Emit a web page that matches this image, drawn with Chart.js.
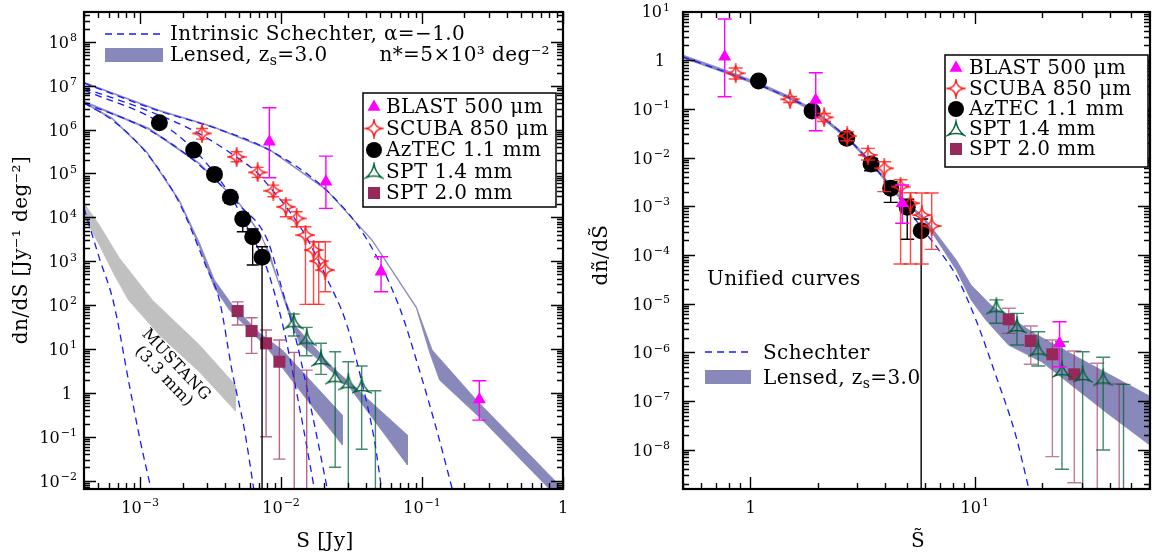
<!DOCTYPE html>
<html>
<head>
<meta charset="utf-8">
<script src="https://cdn.jsdelivr.net/npm/chart.js@4.4.1/dist/chart.umd.min.js"></script>
<style>
  html, body { margin: 0; padding: 0; background: #fff; }
  #wrap { position: relative; width: 1159px; height: 552px; overflow: hidden; }
  #c1 { position: absolute; left: 0; top: 0; }
  #c2 { position: absolute; left: 580px; top: 0; }
</style>
</head>
<body>
<div id="wrap">
  <canvas id="c1" width="580" height="552"></canvas>
  <canvas id="c2" width="579" height="552"></canvas>
</div>
<script>
// ---------- left panel: dn/dS [Jy^-1 deg^-2] vs S [Jy] ----------
const blastS  = [8.26e-3, 2.08e-2, 5.12e-2, 0.255];
const blastN  = [5.27e5, 6.47e4, 577, 0.71];
const blastLo = [7.98e4, 1.60e4, 202, 0.24];
const blastHi = [3.14e6, 2.49e5, 1268, 1.90];

const scubaS  = [2.75e-3, 4.84e-3, 6.82e-3, 8.81e-3, 1.08e-2, 1.29e-2, 1.49e-2, 1.70e-2, 1.85e-2, 2.06e-2];
const scubaN  = [8.2e5, 2.4e5, 1.06e5, 4.04e4, 1.74e4, 9480, 3950, 1800, 1010, 631];
const scubaLo = [6.08e5, 1.85e5, 8.15e4, 2.95e4, 1.03e4, 6110, 104, 104, 104, 202];
const scubaHi = [1.06e6, 3.12e5, 1.38e5, 5.44e4, 2.48e4, 1.34e4, 6110, 2780, 2780, 2780];

const aztecS  = [1.37e-3, 2.40e-3, 3.37e-3, 4.37e-3, 5.35e-3, 6.29e-3, 7.33e-3];
const aztecN  = [1.43e6, 3.41e5, 9.55e4, 2.86e4, 9150, 3610, 1230];
const aztecLo = [1.3e6, 3.1e5, 8.6e4, 2.08e4, 4700, 819, 1e-5];
const aztecHi = [1.57e6, 3.75e5, 1.05e5, 3.83e4, 1.27e4, 5420, 2140];

const spt14S  = [1.23e-2, 1.52e-2, 1.92e-2, 2.42e-2, 3.0e-2, 3.73e-2, 4.67e-2];
const spt14N  = [41.9, 17.5, 5.92, 2.34, 1.71, 1.44, 1e-4];
const spt14Lo = [19.8, 7.03, 2.65, 0.0202, 1e-5, 0.052, 1e-5];
const spt14Hi = [62.7, 31.2, 13.5, 8.68, 5.14, 4.1, 1.12];

const spt20S  = [4.92e-3, 6.18e-3, 7.83e-3, 9.73e-3, 1.24e-2, 1.52e-2];
const spt20N  = [73.4, 25.7, 13.5, 5.14, 1e-4, 1e-4];
const spt20Lo = [35.2, 7.98, 0.1, 0.031, 1e-5, 1e-5];
const spt20Hi = [119, 51.6, 27.1, 16.0, 8.4, 3.3];

// intrinsic Schechter curves
const schBlastS = [4.0e-4, 1.37e-3, 3.26e-3, 8.26e-3, 2.09e-2, 4.09e-2, 6.90e-2, 9.57e-2, 0.126, 0.166];
const schBlastN = [1.15e7, 2.64e6, 1.14e6, 3.41e5, 4.19e4, 3.04e3, 90.5, 3.33, 0.158, 5.5e-3];
const schScubaS = [4.0e-4, 1.11e-3, 2.51e-3, 4.82e-3, 6.68e-3, 8.67e-3, 1.09e-2, 1.51e-2, 2.09e-2, 2.90e-2, 3.71e-2, 4.59e-2, 5.2e-2];
const schScubaN = [8.8e6, 2.78e6, 8.77e5, 2.37e5, 1.08e5, 4.19e4, 1.72e4, 3.56e3, 437, 39.1, 1.97, 0.0846, 5.5e-3];
const schAztecS = [4.0e-4, 1.37e-3, 2.35e-3, 3.37e-3, 4.45e-3, 5.32e-3, 6.26e-3, 7.87e-3, 1.02e-2, 1.35e-2, 1.74e-2];
const schAztecN = [7.94e6, 1.48e6, 3.79e5, 1.02e5, 2.90e4, 9.64e3, 3.56e3, 738, 39.1, 0.477, 5.5e-3];
const schSpt14S = [4.0e-4, 1.16e-3, 2.64e-3, 5.06e-3, 8.0e-3, 1.02e-2, 1.28e-2, 1.67e-2, 2.15e-2];
const schSpt14N = [4.02e6, 9.75e5, 1.55e5, 1.91e4, 3.04e3, 221, 16.0, 0.313, 5.5e-3];
const schSpt20S = [4.0e-4, 6.36e-4, 1.11e-3, 1.90e-3, 2.95e-3, 3.65e-3, 4.52e-3, 5.50e-3, 6.45e-3];
const schSpt20N = [4.02e6, 1.64e6, 2.92e5, 2.12e4, 738, 131, 2.84, 0.143, 5.5e-3];
const schMustS  = [4.0e-4, 5.14e-4, 6.47e-4, 8.39e-4, 1.0e-3, 1.2e-3];
const schMustN  = [1.63e4, 1.18e3, 118, 1.51, 0.0846, 6.1e-3];

// lensed bands: upper edge then lower edge (reversed)
const lensBlastUpS = [4.0e-4, 1.37e-3, 3.26e-3, 8.26e-3, 2.09e-2, 4.44e-2, 9.12e-2, 0.118, 0.243, 0.84, 1.11];
const lensBlastUpN = [1.21e7, 2.78e6, 1.20e6, 3.6e5, 4.42e4, 3.04e3, 90.5, 9.5, 0.689, 0.0115, 4.72e-3];
const lensBlastLoS = [1.11, 0.80, 0.268, 0.133, 0.113, 9.12e-2, 4.44e-2, 2.09e-2, 8.26e-3, 3.26e-3, 1.37e-3, 4.0e-4];
const lensBlastLoN = [9.8e-4, 6.47e-3, 0.241, 1.97, 8.55, 85, 2.9e3, 4.2e4, 3.45e5, 1.15e6, 2.66e6, 1.16e7];

const lensSpt14UpS = [4.0e-4, 1.16e-3, 2.64e-3, 5.06e-3, 7.24e-3, 9.73e-3, 1.28e-2, 2.31e-2, 7.87e-2];
const lensSpt14UpN = [4.46e6, 1.08e6, 1.73e5, 2.12e4, 3.95e3, 287, 31.7, 3.89, 0.110];
const lensSpt14LoS = [7.87e-2, 3.05e-2, 1.35e-2, 1.05e-2, 8.26e-3, 7.24e-3, 5.06e-3, 2.64e-3, 1.16e-3, 4.0e-4];
const lensSpt14LoN = [0.0228, 1.36, 13.7, 131, 1.62e3, 3.6e3, 2.0e4, 1.62e5, 1.0e6, 4.2e6];

const lensSpt20UpS = [4.0e-4, 6.36e-4, 1.11e-3, 1.90e-3, 2.64e-3, 3.37e-3, 4.52e-3, 7.02e-3, 1.02e-2, 2.72e-2];
const lensSpt20UpN = [4.23e6, 1.83e6, 3.24e5, 2.48e4, 2.6e3, 373, 100, 23.1, 9.5, 0.313];
const lensSpt20LoS = [2.72e-2, 1.35e-2, 7.87e-3, 5.50e-3, 4.30e-3, 3.37e-3, 2.64e-3, 1.90e-3, 1.11e-3, 6.36e-4, 4.0e-4];
const lensSpt20LoN = [0.065, 1.16, 11.1, 35.2, 77.3, 245, 2.1e3, 2.3e4, 3.05e5, 1.72e6, 4.0e6];

const mustangUpS = [4.0e-4, 5.14e-4, 7.13e-4, 1.22e-3, 2.64e-3, 4.74e-3];
const mustangUpN = [2.12e4, 6.68e3, 1.18e3, 131, 12.3, 1.51];
const mustangLoS = [4.74e-3, 2.64e-3, 1.37e-3, 8.26e-4, 6.57e-4, 5.14e-4, 4.0e-4];
const mustangLoN = [0.387, 2.99, 20.8, 131, 485, 2.34e3, 1.02e4];

// ---------- right panel: unified dñ/dS̃ vs S̃ ----------
const uBlastS  = [0.767, 1.954, 4.75, 23.9];
const uBlastN  = [1.175, 0.152, 1.15e-3, 1.53e-6];
const uBlastLo = [0.177, 0.0355, 4.46e-4, 5.06e-7];
const uBlastHi = [6.98, 0.551, 2.72e-3, 4.25e-6];

const uScubaS  = [0.859, 1.502, 2.13, 2.70, 3.34, 3.95, 4.67, 5.17, 5.81, 6.43];
const uScubaN  = [0.536, 0.157, 0.0668, 0.0276, 0.01124, 6.0e-3, 2.51e-3, 1.15e-3, 6.59e-4, 3.92e-4];
const uScubaLo = [0.409, 0.135, 0.055, 0.022, 8.9e-3, 1.99e-3, 6.5e-5, 6.5e-5, 6.5e-5, 1.3e-4];
const uScubaHi = [0.688, 0.18, 0.08, 0.034, 0.0154, 8.2e-3, 3.5e-3, 1.89e-3, 1.87e-3, 1.87e-3];

const uAztecS  = [1.086, 1.882, 2.685, 3.45, 4.22, 5.0, 5.77];
const uAztecN  = [0.372, 0.0902, 0.0248, 7.36e-3, 2.33e-3, 9.48e-4, 3.14e-4];
const uAztecLo = [0.34, 0.082, 0.0225, 5.36e-3, 1.2e-3, 2.09e-4, 1e-12];
const uAztecHi = [0.405, 0.099, 0.0273, 9.6e-3, 3.18e-3, 1.39e-3, 5.46e-4];

const uSpt14S  = [12.49, 15.44, 19.2, 24.5, 30.3, 37.4, 46.1];
const uSpt14N  = [8.63e-6, 3.47e-6, 1.15e-6, 4.33e-7, 3.42e-7, 2.92e-7, 1e-10];
const uSpt14Lo = [3.94e-6, 1.41e-6, 5.23e-7, 3.96e-9, 1e-12, 9.86e-9, 1e-12];
const uSpt14Hi = [1.19e-5, 6.3e-6, 2.65e-6, 1.65e-6, 1.03e-6, 7.9e-7, 2.2e-7];

const uSpt20S  = [14.19, 17.78, 22.2, 27.8, 35.2, 44.1];
const uSpt20N  = [4.76e-6, 1.71e-6, 9.1e-7, 3.53e-7, 1e-10, 1e-10];
const uSpt20Lo = [2.45e-6, 5.67e-7, 7.2e-9, 2.1e-9, 1e-12, 1e-12];
const uSpt20Hi = [8.0e-6, 3.47e-6, 1.79e-6, 1.06e-6, 5.94e-7, 2.23e-7];

const uSchS = [0.5, 0.771, 1.098, 1.487, 1.914, 2.726, 3.51, 4.52, 5.81, 6.97, 8.28, 10.13, 12.40, 15.18, 17.48];
const uSchN = [1.16, 0.570, 0.308, 0.167, 0.0902, 0.0240, 7.02e-3, 1.62e-3, 3.57e-4, 1.20e-4, 3.69e-5, 4.60e-6, 3.42e-7, 2.10e-8, 1.5e-9];

const uLensUpS = [0.5, 0.771, 1.098, 1.487, 1.914, 2.726, 3.51, 4.52, 5.93, 8.28, 9.63, 11.79, 18.57, 29.85, 62.6];
const uLensUpN = [1.27, 0.627, 0.339, 0.183, 0.0991, 0.0264, 7.71e-3, 1.87e-3, 6.0e-4, 7.86e-5, 2.41e-5, 9.36e-6, 2.4e-6, 7.2e-7, 1.15e-7];
const uLensLoS = [62.6, 38.9, 19.94, 14.14, 11.21, 9.63, 8.28, 5.93, 4.52, 3.51, 2.726, 1.914, 1.487, 1.098, 0.771, 0.5];
const uLensLoN = [1.1e-8, 5.67e-8, 6.32e-7, 1.41e-6, 4.60e-6, 1.19e-5, 4.90e-5, 5.21e-4, 1.62e-3, 6.70e-3, 0.0229, 0.0859, 0.159, 0.294, 0.543, 1.10];

// ---------- axis ticks ----------
const leftXTicks  = [1e-3, 1e-2, 1e-1, 1];
const leftXLabels = [['10', '−3'], ['10', '−2'], ['10', '−1'], ['1', '']];
const leftYTicks  = [1e-2, 1e-1, 1, 1e1, 1e2, 1e3, 1e4, 1e5, 1e6, 1e7, 1e8];
const leftYLabels = [['10', '−2'], ['10', '−1'], ['1', ''], ['10', '1'], ['10', '2'], ['10', '3'],
                     ['10', '4'], ['10', '5'], ['10', '6'], ['10', '7'], ['10', '8']];
const rightXTicks  = [1, 10];
const rightXLabels = [['1', ''], ['10', '1']];
const rightYTicks  = [1e-8, 1e-7, 1e-6, 1e-5, 1e-4, 1e-3, 1e-2, 1e-1, 1, 10];
const rightYLabels = [['10', '−8'], ['10', '−7'], ['10', '−6'], ['10', '−5'], ['10', '−4'],
                      ['10', '−3'], ['10', '−2'], ['10', '−1'], ['1', ''], ['10', '1']];

const SERIF = '"DejaVu Serif", "Liberation Serif", serif';
const KEY_SIZE = 20;
const BLUE = 'rgb(25,25,255)';
const LENS = 'rgb(136,136,187)';
const GREY = 'rgb(192,192,192)';
const MAGENTA = 'rgb(255,0,255)';
const RED = 'rgb(255,30,30)';
const GREEN = 'rgb(0,100,55)';
const MAROON = 'rgb(150,40,90)';

// open marker shapes drawn once and handed to Chart.js as pointStyle
function starMarker(color) {
    const c = document.createElement('canvas');
    c.width = c.height = 20;
    const g = c.getContext('2d');
    const m = 10, r = 8.5, k = 0.8;
    g.strokeStyle = color;
    g.lineWidth = 1.5;
    g.beginPath();
    g.moveTo(m, m - r);
    g.quadraticCurveTo(m + k, m - k, m + r, m);
    g.quadraticCurveTo(m + k, m + k, m, m + r);
    g.quadraticCurveTo(m - k, m + k, m - r, m);
    g.quadraticCurveTo(m - k, m - k, m, m - r);
    g.closePath();
    g.stroke();
    return c;
}

function tripodMarker(color) {
    const c = document.createElement('canvas');
    c.width = c.height = 20;
    const g = c.getContext('2d');
    const m = 10, cy = 11.5, r = 9, k = 1.5;
    const rad = a => a * Math.PI / 180;
    const tips = [-90, 30, 150].map(a => [m + r * Math.cos(rad(a)), cy + r * Math.sin(rad(a))]);
    const ctrl = [-30, 90, 210].map(a => [m + k * Math.cos(rad(a)), cy + k * Math.sin(rad(a))]);
    g.strokeStyle = color;
    g.lineWidth = 1.5;
    g.beginPath();
    g.moveTo(tips[0][0], tips[0][1]);
    for (let i = 0; i < 3; i++) {
        const t = tips[(i + 1) % 3];
        g.quadraticCurveTo(ctrl[i][0], ctrl[i][1], t[0], t[1]);
    }
    g.closePath();
    g.stroke();
    return c;
}

const STAR = starMarker(RED);
const TRIPOD = tripodMarker(GREEN);

function pts(xs, ys) {
    return xs.map((x, i) => ({ x, y: ys[i] }));
}

function curveSet(xs, ys) {
    return {
        data: pts(xs, ys), borderColor: BLUE, borderWidth: 1.3, borderDash: [7, 5],
        pointRadius: 0, fill: false, cubicInterpolationMode: 'monotone'
    };
}

function bandSet(upX, upY, loX, loY, color) {
    return {
        data: pts(upX.concat(loX), upY.concat(loY)), borderColor: color, backgroundColor: color,
        borderWidth: 0.8, pointRadius: 0, fill: 'shape', tension: 0
    };
}

function markSet(xs, ys, lo, hi, style, radius, color, errColor, cap) {
    return {
        data: pts(xs, ys), showLine: false, pointStyle: style, pointRadius: radius,
        pointHoverRadius: radius, pointBackgroundColor: color, pointBorderColor: color,
        pointBorderWidth: 0, errLo: lo, errHi: hi, errColor: errColor, errCap: cap
    };
}

// vertical error bars with caps, drawn just under each marker set
const errorBars = {
    id: 'errorBars',
    beforeDatasetDraw(chart, args) {
        const ds = chart.data.datasets[args.index];
        if (!ds.errLo) return;
        const { ctx, chartArea: a, scales: { x, y } } = chart;
        ctx.save();
        ctx.beginPath();
        ctx.rect(a.left, a.top, a.right - a.left, a.bottom - a.top);
        ctx.clip();
        ctx.strokeStyle = ds.errColor;
        ctx.lineWidth = 1.4;
        ds.data.forEach((p, i) => {
            const px = x.getPixelForValue(p.x);
            const yl = y.getPixelForValue(ds.errLo[i]);
            const yh = y.getPixelForValue(ds.errHi[i]);
            const w = ds.errCap;
            ctx.beginPath();
            ctx.moveTo(px, yl); ctx.lineTo(px, yh);
            ctx.moveTo(px - w, yl); ctx.lineTo(px + w, yl);
            ctx.moveTo(px - w, yh); ctx.lineTo(px + w, yh);
            ctx.stroke();
        });
        ctx.restore();
    }
};

function keyFont(ctx, size) {
    ctx.font = `${size}px ${SERIF}`;
    if ('letterSpacing' in ctx) ctx.letterSpacing = '0.4px';
}

function powText(ctx, base, exp, x, y, align, size) {
    const big = `${size}px ${SERIF}`;
    const small = `${Math.round(size * 0.7)}px ${SERIF}`;
    ctx.font = big;
    const bw = ctx.measureText(base).width;
    ctx.font = small;
    const ew = exp ? ctx.measureText(exp).width + 1 : 0;
    const w = bw + ew;
    const x0 = align === 'right' ? x - w : align === 'center' ? x - w / 2 : x;
    ctx.textAlign = 'left';
    ctx.textBaseline = 'alphabetic';
    ctx.font = big;
    ctx.fillText(base, x0, y);
    if (exp) {
        ctx.font = small;
        ctx.fillText(exp, x0 + bw + 1, y - size * 0.42);
    }
}

function subText(ctx, a, sub, b, x, y, size) {
    ctx.textAlign = 'left';
    keyFont(ctx, size);
    ctx.fillText(a, x, y);
    let cx = x + ctx.measureText(a).width;
    keyFont(ctx, Math.round(size * 0.68));
    ctx.fillText(sub, cx, y + 4);
    cx += ctx.measureText(sub).width;
    keyFont(ctx, size);
    ctx.fillText(b, cx, y);
}

function drawMark(ctx, kind, x, y) {
    ctx.save();
    ctx.beginPath();
    if (kind === 'triangle') {
        const r = 7.5;
        ctx.fillStyle = MAGENTA;
        ctx.moveTo(x, y - r);
        ctx.lineTo(x + r * 0.866, y + r * 0.5);
        ctx.lineTo(x - r * 0.866, y + r * 0.5);
        ctx.closePath();
        ctx.fill();
    } else if (kind === 'circle') {
        ctx.fillStyle = '#000';
        ctx.arc(x, y, 8, 0, Math.PI * 2);
        ctx.fill();
    } else if (kind === 'rect') {
        ctx.fillStyle = MAROON;
        ctx.fillRect(x - 6, y - 6, 12, 12);
    } else {
        const img = kind === 'star' ? STAR : TRIPOD;
        ctx.drawImage(img, x - img.width / 2, y - img.height / 2);
    }
    ctx.restore();
}

function dataKey(ctx, box, rows, markX, textX) {
    ctx.save();
    ctx.fillStyle = '#fff';
    ctx.fillRect(box[0], box[1], box[2] - box[0], box[3] - box[1]);
    ctx.strokeStyle = '#000';
    ctx.lineWidth = 1.5;
    ctx.strokeRect(box[0], box[1], box[2] - box[0], box[3] - box[1]);
    const entries = [
        ['triangle', 'BLAST 500 μm'], ['star', 'SCUBA 850 μm'], ['circle', 'AzTEC 1.1 mm'],
        ['tripod', 'SPT 1.4 mm'], ['rect', 'SPT 2.0 mm']
    ];
    ctx.fillStyle = '#000';
    ctx.textAlign = 'left';
    ctx.textBaseline = 'middle';
    entries.forEach((e, i) => {
        drawMark(ctx, e[0], markX, rows[i]);
        ctx.fillStyle = '#000';
        keyFont(ctx, KEY_SIZE);
        ctx.fillText(e[1], textX, rows[i] + 1);
    });
    ctx.restore();
}

// box, inward log ticks, tick labels and any extra annotation
function framePlugin(xTicks, xLabels, yTicks, yLabels, yGap, decor) {
    return {
        id: 'frame',
        afterDraw(chart) {
            const { ctx, chartArea: a, scales: { x, y } } = chart;
            ctx.save();
            ctx.strokeStyle = '#000';
            ctx.lineWidth = 1.4;
            ctx.beginPath();
            const minorX = [], minorY = [];
            for (let e = Math.floor(Math.log10(x.min)); e <= Math.ceil(Math.log10(x.max)); e++) {
                for (let k = 1; k <= 9; k++) minorX.push([k * Math.pow(10, e), k === 1]);
            }
            for (let e = Math.floor(Math.log10(y.min)); e <= Math.ceil(Math.log10(y.max)); e++) {
                for (let k = 1; k <= 9; k++) minorY.push([k * Math.pow(10, e), k === 1]);
            }
            minorX.forEach(([v, major]) => {
                if (v < x.min * 0.999 || v > x.max * 1.001) return;
                const p = Math.round(x.getPixelForValue(v)) + 0.5;
                const len = major ? 12 : 6;
                ctx.moveTo(p, a.bottom); ctx.lineTo(p, a.bottom - len);
                ctx.moveTo(p, a.top); ctx.lineTo(p, a.top + len);
            });
            minorY.forEach(([v, major]) => {
                if (v < y.min * 0.999 || v > y.max * 1.001) return;
                const p = Math.round(y.getPixelForValue(v)) + 0.5;
                const len = major ? 12 : 6;
                ctx.moveTo(a.left, p); ctx.lineTo(a.left + len, p);
                ctx.moveTo(a.right, p); ctx.lineTo(a.right - len, p);
            });
            ctx.stroke();
            ctx.lineWidth = 2.2;
            ctx.strokeRect(a.left, a.top, a.right - a.left, a.bottom - a.top);

            ctx.fillStyle = '#000';
            xTicks.forEach((v, i) => {
                powText(ctx, xLabels[i][0], xLabels[i][1], x.getPixelForValue(v), a.bottom + 24, 'center', 16);
            });
            yTicks.forEach((v, i) => {
                const lab = yLabels[i];
                const gap = lab[1] ? yGap : yGap + 5;
                powText(ctx, lab[0], lab[1], a.left - gap, y.getPixelForValue(v) + 6, 'right', 16);
            });
            decor(ctx, a);
            ctx.restore();
        }
    };
}

function baseOptions(xMin, xMax, yMin, yMax, padRight, yWidth) {
    return {
        responsive: false,
        animation: false,
        devicePixelRatio: 1,
        layout: { padding: { left: 0, right: padRight, top: 12, bottom: 0 } },
        plugins: { legend: { display: false }, tooltip: { enabled: false } },
        scales: {
            x: {
                type: 'logarithmic', min: xMin, max: xMax,
                ticks: { display: false }, grid: { display: false }, border: { display: false },
                afterFit(s) { s.height = 63; }
            },
            y: {
                type: 'logarithmic', min: yMin, max: yMax,
                ticks: { display: false }, grid: { display: false }, border: { display: false },
                afterFit(s) { s.width = yWidth; }
            }
        }
    };
}

// ---------- left chart ----------
const leftDecor = (ctx) => {
    ctx.fillStyle = '#000';
    ctx.textBaseline = 'alphabetic';
    // curve key
    ctx.save();
    ctx.strokeStyle = BLUE;
    ctx.lineWidth = 1.3;
    ctx.setLineDash([7, 5]);
    ctx.beginPath(); ctx.moveTo(105, 34); ctx.lineTo(160, 34); ctx.stroke();
    ctx.restore();
    keyFont(ctx, KEY_SIZE);
    ctx.textAlign = 'left';
    ctx.fillText('Intrinsic Schechter, α=−1.0', 170, 40);
    ctx.fillStyle = LENS;
    ctx.fillRect(105, 48, 58, 14);
    ctx.fillStyle = '#000';
    subText(ctx, 'Lensed, z', 's', '=3.0', 170, 61, KEY_SIZE);
    keyFont(ctx, KEY_SIZE);
    ctx.textAlign = 'right';
    ctx.fillText('n*=5×10³ deg⁻²', 550, 61);

    dataKey(ctx, [363, 93, 556, 207], [107, 128.5, 150, 171.5, 193], 374, 386);

    // MUSTANG label along its band
    ctx.save();
    keyFont(ctx, 16);
    ctx.textAlign = 'center';
    ctx.textBaseline = 'middle';
    ctx.translate(176, 365);
    ctx.rotate(46.5 * Math.PI / 180);
    ctx.fillText('MUSTANG', 0, 0);
    ctx.fillText('(3.3 mm)', 0, 17);
    ctx.restore();

    // axis titles
    keyFont(ctx, 20);
    ctx.textAlign = 'center';
    ctx.textBaseline = 'alphabetic';
    ctx.fillText('S [Jy]', 325, 547);
    ctx.save();
    ctx.translate(27, 250);
    ctx.rotate(-Math.PI / 2);
    ctx.fillText('dn/dS [Jy⁻¹ deg⁻²]', 0, 0);
    ctx.restore();
};

new Chart(document.getElementById('c1'), {
    type: 'line',
    data: {
        datasets: [
            markSet(blastS, blastN, blastLo, blastHi, 'triangle', 7.5, MAGENTA, MAGENTA, 7),
            markSet(scubaS, scubaN, scubaLo, scubaHi, STAR, 9, RED, 'rgba(255,40,40,0.85)', 6),
            markSet(aztecS, aztecN, aztecLo, aztecHi, 'circle', 8.5, '#000', '#000', 6),
            markSet(spt14S, spt14N, spt14Lo, spt14Hi, TRIPOD, 9, GREEN, 'rgba(0,100,55,0.75)', 6),
            markSet(spt20S, spt20N, spt20Lo, spt20Hi, 'rect', 8.5, MAROON, 'rgba(150,40,90,0.7)', 6),
            curveSet(schBlastS, schBlastN),
            curveSet(schScubaS, schScubaN),
            curveSet(schAztecS, schAztecN),
            curveSet(schSpt14S, schSpt14N),
            curveSet(schSpt20S, schSpt20N),
            curveSet(schMustS, schMustN),
            bandSet(lensBlastUpS, lensBlastUpN, lensBlastLoS, lensBlastLoN, LENS),
            bandSet(lensSpt14UpS, lensSpt14UpN, lensSpt14LoS, lensSpt14LoN, LENS),
            bandSet(lensSpt20UpS, lensSpt20UpN, lensSpt20LoS, lensSpt20LoN, LENS),
            bandSet(mustangUpS, mustangUpN, mustangLoS, mustangLoN, GREY)
        ]
    },
    options: baseOptions(4.0e-4, 1.0, 6.46e-3, 4.79e8, 17, 84),
    plugins: [errorBars, framePlugin(leftXTicks, leftXLabels, leftYTicks, leftYLabels, 7, leftDecor)]
});

// ---------- right chart ----------
const rightDecor = (ctx) => {
    ctx.fillStyle = '#000';
    dataKey(ctx, [365, 55, 568, 167], [68, 88.5, 109, 129, 149], 376, 389);

    keyFont(ctx, KEY_SIZE);
    ctx.textAlign = 'left';
    ctx.textBaseline = 'alphabetic';
    ctx.fillText('Unified curves', 127, 285);

    ctx.save();
    ctx.strokeStyle = BLUE;
    ctx.lineWidth = 1.3;
    ctx.setLineDash([7, 5]);
    ctx.beginPath(); ctx.moveTo(125, 352); ctx.lineTo(171, 352); ctx.stroke();
    ctx.restore();
    keyFont(ctx, KEY_SIZE);
    ctx.fillText('Schechter', 183, 359);
    ctx.fillStyle = LENS;
    ctx.fillRect(125, 370, 46, 14);
    ctx.fillStyle = '#000';
    subText(ctx, 'Lensed, z', 's', '=3.0', 183, 384, KEY_SIZE);

    keyFont(ctx, 20);
    ctx.textAlign = 'center';
    ctx.fillText('S̃', 338, 547);
    ctx.save();
    ctx.translate(27, 255);
    ctx.rotate(-Math.PI / 2);
    ctx.fillText('dñ/dS̃', 0, 0);
    ctx.restore();
};

new Chart(document.getElementById('c2'), {
    type: 'line',
    data: {
        datasets: [
            markSet(uBlastS, uBlastN, uBlastLo, uBlastHi, 'triangle', 7.5, MAGENTA, MAGENTA, 7),
            markSet(uScubaS, uScubaN, uScubaLo, uScubaHi, STAR, 9, RED, 'rgba(255,40,40,0.85)', 7),
            markSet(uAztecS, uAztecN, uAztecLo, uAztecHi, 'circle', 8.5, '#000', '#000', 7),
            markSet(uSpt14S, uSpt14N, uSpt14Lo, uSpt14Hi, TRIPOD, 9, GREEN, 'rgba(0,100,55,0.75)', 7),
            markSet(uSpt20S, uSpt20N, uSpt20Lo, uSpt20Hi, 'rect', 8.5, MAROON, 'rgba(150,40,90,0.6)', 7),
            curveSet(uSchS, uSchN),
            bandSet(uLensUpS, uLensUpN, uLensLoS, uLensLoN, LENS)
        ]
    },
    options: baseOptions(0.5, 60.5, 1.56e-9, 9.72, 2, 103),
    plugins: [errorBars, framePlugin(rightXTicks, rightXLabels, rightYTicks, rightYLabels, 13, rightDecor)]
});
</script>
</body>
</html>
